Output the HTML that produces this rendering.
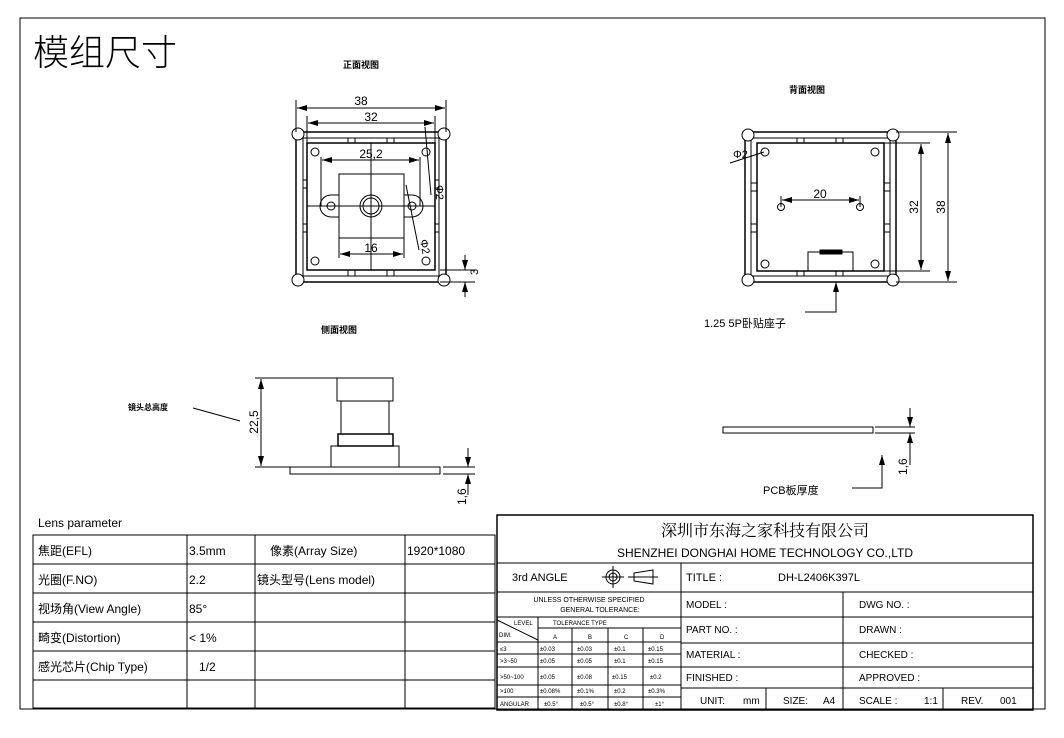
<!DOCTYPE html>
<html><head><meta charset="utf-8"><style>
body{margin:0;background:#fff;}
svg{display:block;font-family:"Liberation Sans","Noto Sans CJK SC",sans-serif;}
</style></head><body>
<svg width="1064" height="738" viewBox="0 0 1064 738" xmlns="http://www.w3.org/2000/svg">
<defs>
<marker id="a" viewBox="0 0 10 6" refX="10" refY="3" markerWidth="10" markerHeight="6" orient="auto-start-reverse" markerUnits="userSpaceOnUse"><path d="M0,0L10,3L0,6z" fill="#000"/></marker>
</defs>
<g fill="none" stroke="#000" stroke-width="1">
<rect x="20" y="18" width="1025" height="691"/>
<!-- FRONT VIEW -->
<rect x="296" y="132" width="150" height="150" stroke-width="1.5"/>
<rect x="303" y="138" width="136" height="138"/>
<rect x="307" y="143" width="128" height="127" stroke-width="1.5"/>
<circle cx="298" cy="134" r="6" fill="#fff"/><circle cx="444" cy="134" r="6" fill="#fff"/>
<circle cx="298" cy="280" r="6" fill="#fff"/><circle cx="444" cy="280" r="6" fill="#fff"/>
<circle cx="315" cy="152" r="4"/><circle cx="426" cy="152" r="4"/><circle cx="315" cy="261" r="4"/><circle cx="426" cy="261" r="4"/>
<rect x="348" y="138" width="7" height="5"/><rect x="387" y="138" width="7" height="5"/>
<rect x="348" y="270" width="7" height="6"/><rect x="387" y="270" width="7" height="6"/>
<rect x="303" y="180" width="4" height="8"/><rect x="303" y="224" width="4" height="8"/>
<rect x="435" y="180" width="4" height="8"/><rect x="435" y="224" width="4" height="8"/>
<path d="M339,195 h-8 a11,11 0 0 0 0,22 h8"/><path d="M404,195 h8 a11,11 0 0 1 0,22 h-8"/>
<circle cx="331" cy="206" r="4"/><circle cx="412" cy="206" r="4"/>
<rect x="339" y="174" width="65" height="64"/>
<circle cx="371" cy="206" r="11"/><circle cx="371" cy="206" r="8"/>
<line x1="307" y1="206" x2="435" y2="206"/><line x1="371" y1="143" x2="371" y2="270"/>
<line x1="296" y1="100" x2="296" y2="132"/><line x1="446" y1="100" x2="446" y2="132"/>
<line x1="297" y1="108" x2="445" y2="108" marker-start="url(#a)" marker-end="url(#a)"/>
<line x1="307" y1="116" x2="307" y2="143"/><line x1="435" y1="116" x2="435" y2="143"/>
<line x1="308" y1="123" x2="434" y2="123" marker-start="url(#a)" marker-end="url(#a)"/>
<line x1="321" y1="157" x2="321" y2="206"/><line x1="420" y1="157" x2="420" y2="206"/>
<line x1="322" y1="160" x2="419" y2="160" marker-start="url(#a)" marker-end="url(#a)"/>
<line x1="339" y1="238" x2="339" y2="258"/><line x1="404" y1="238" x2="404" y2="258"/>
<line x1="340" y1="254" x2="403" y2="254" marker-start="url(#a)" marker-end="url(#a)"/>
<line x1="425" y1="127" x2="431" y2="195"/><line x1="406" y1="185" x2="419" y2="250"/>
<line x1="440" y1="282" x2="475" y2="282"/><line x1="440" y1="270" x2="475" y2="270"/>
<line x1="465" y1="255" x2="465" y2="270" marker-end="url(#a)"/><line x1="465" y1="297" x2="465" y2="282" marker-end="url(#a)"/>
<!-- BACK VIEW -->
<rect x="745" y="132" width="151" height="150" stroke-width="1.5"/>
<rect x="751" y="138" width="139" height="138"/>
<rect x="757" y="143" width="127" height="128" stroke-width="1.5"/>
<circle cx="748" cy="135" r="6" fill="#fff"/><circle cx="893" cy="135" r="6" fill="#fff"/>
<circle cx="748" cy="280" r="6" fill="#fff"/><circle cx="893" cy="280" r="6" fill="#fff"/>
<circle cx="765" cy="152" r="4"/><circle cx="875" cy="152" r="4"/><circle cx="765" cy="264" r="4"/><circle cx="875" cy="264" r="4"/>
<circle cx="781" cy="207" r="3.5"/><circle cx="860" cy="207" r="3.5"/>
<rect x="797" y="138" width="7" height="5"/><rect x="836" y="138" width="7" height="5"/>
<rect x="797" y="271" width="7" height="5"/><rect x="836" y="271" width="7" height="5"/>
<rect x="751" y="183" width="6" height="8"/><rect x="751" y="224" width="6" height="8"/>
<rect x="884" y="183" width="6" height="8"/><rect x="884" y="224" width="6" height="8"/>
<line x1="781" y1="196" x2="781" y2="207"/><line x1="860" y1="196" x2="860" y2="207"/>
<line x1="782" y1="200" x2="859" y2="200" marker-start="url(#a)" marker-end="url(#a)"/>
<polyline points="808,271 808,252 853,252 853,271"/>
<rect x="820" y="250" width="22" height="4" fill="#000"/>
<line x1="836" y1="312" x2="836" y2="282" marker-end="url(#a)"/><polyline points="805,312 836,312 836,295"/>
<line x1="730" y1="163" x2="764" y2="152"/>
<line x1="884" y1="143" x2="930" y2="143"/><line x1="884" y1="271" x2="930" y2="271"/>
<line x1="921" y1="144" x2="921" y2="270" marker-start="url(#a)" marker-end="url(#a)"/>
<line x1="896" y1="132" x2="957" y2="132"/><line x1="896" y1="282" x2="957" y2="282"/>
<line x1="948" y1="133" x2="948" y2="281" marker-start="url(#a)" marker-end="url(#a)"/>
<!-- SIDE VIEW -->
<rect x="337" y="378" width="56" height="23"/>
<rect x="341" y="401" width="48" height="33"/>
<rect x="338" y="434" width="55" height="12" stroke-width="1.5"/>
<rect x="331" y="446" width="68" height="21"/>
<rect x="290" y="467" width="150" height="7"/>
<line x1="255" y1="378" x2="337" y2="378"/><line x1="255" y1="467" x2="331" y2="467"/>
<line x1="261" y1="379" x2="261" y2="466" marker-start="url(#a)" marker-end="url(#a)"/>
<line x1="193" y1="408" x2="240" y2="421"/>
<line x1="443" y1="467" x2="475" y2="467"/><line x1="443" y1="474" x2="475" y2="474"/>
<line x1="468" y1="448" x2="468" y2="467" marker-end="url(#a)"/><line x1="468" y1="495" x2="468" y2="474" marker-end="url(#a)"/>
<!-- PCB THICKNESS -->
<rect x="723" y="427" width="150" height="6"/>
<line x1="875" y1="427" x2="915" y2="427"/><line x1="875" y1="433" x2="915" y2="433"/>
<line x1="910" y1="408" x2="910" y2="427" marker-end="url(#a)"/><line x1="910" y1="465" x2="910" y2="433" marker-end="url(#a)"/>
<line x1="882" y1="488" x2="882" y2="455" marker-end="url(#a)"/><polyline points="852,488 882,488 882,470"/>
<!-- LENS TABLE -->
<rect x="33" y="535" width="462" height="173"/>
<line x1="33" y1="564" x2="495" y2="564"/><line x1="33" y1="593" x2="495" y2="593"/>
<line x1="33" y1="622" x2="495" y2="622"/><line x1="33" y1="651" x2="495" y2="651"/>
<line x1="33" y1="680" x2="495" y2="680"/>
<line x1="187" y1="535" x2="187" y2="708"/><line x1="255" y1="535" x2="255" y2="708"/><line x1="405" y1="535" x2="405" y2="708"/>
<!-- TITLE BLOCK -->
<rect x="497" y="515" width="536" height="195" stroke-width="1.5"/>
<line x1="497" y1="563" x2="1033" y2="563"/><line x1="497" y1="592" x2="1033" y2="592"/>
<line x1="681" y1="563" x2="681" y2="710"/>
<line x1="681" y1="617" x2="1033" y2="617"/><line x1="681" y1="643" x2="1033" y2="643"/>
<line x1="681" y1="667" x2="1033" y2="667"/><line x1="681" y1="688" x2="1033" y2="688"/>
<line x1="843" y1="592" x2="843" y2="710"/><line x1="766" y1="688" x2="766" y2="710"/><line x1="943" y1="688" x2="943" y2="710"/>
<line x1="497" y1="617" x2="681" y2="617"/><line x1="538" y1="628" x2="681" y2="628"/>
<line x1="497" y1="642" x2="681" y2="642"/><line x1="497" y1="654" x2="681" y2="654"/>
<line x1="497" y1="667" x2="681" y2="667"/><line x1="497" y1="685" x2="681" y2="685"/>
<line x1="497" y1="697" x2="681" y2="697"/>
<line x1="538" y1="617" x2="538" y2="710"/><line x1="572" y1="628" x2="572" y2="710"/>
<line x1="608" y1="628" x2="608" y2="710"/><line x1="643" y1="628" x2="643" y2="710"/>
<line x1="497" y1="620" x2="538" y2="640"/>
<circle cx="613" cy="577" r="7"/><circle cx="613" cy="577" r="4"/>
<line x1="602" y1="577" x2="624" y2="577"/><line x1="613" y1="566" x2="613" y2="588"/>
<polygon points="634,573 653,570 653,584 634,581"/><line x1="628" y1="577" x2="658" y2="577"/>
</g>
<g font-size="13" fill="#000">
<text x="33" y="65" font-size="36" font-family="'Noto Sans CJK SC',sans-serif" font-weight="300">模组尺寸</text>
<text x="343" y="68" font-size="9" font-weight="bold">正面视图</text>
<text x="789" y="93" font-size="9" font-weight="bold">背面视图</text>
<text x="321" y="333" font-size="9" font-weight="bold">侧面视图</text>
<text x="128" y="410" font-size="8" font-weight="bold">镜头总高度</text>
<text x="361" y="105" font-size="12" text-anchor="middle">38</text>
<text x="371" y="121" font-size="12" text-anchor="middle">32</text>
<text x="371" y="158" font-size="12" text-anchor="middle">25,2</text>
<text x="371" y="252" font-size="12" text-anchor="middle">16</text>
<text x="436" y="185" font-size="11" transform="rotate(90 436 185)">Φ2</text>
<text x="420" y="240" font-size="11" transform="rotate(80 420 240)">Φ2</text>
<text x="478" y="275" font-size="11" transform="rotate(-90 478 275)">3</text>
<text x="733" y="158" font-size="11">Φ2</text>
<text x="820" y="198" font-size="12" text-anchor="middle">20</text>
<text x="918" y="207" font-size="12" transform="rotate(-90 918 207)" text-anchor="middle">32</text>
<text x="945" y="207" font-size="12" transform="rotate(-90 945 207)" text-anchor="middle">38</text>
<text x="704" y="327" font-size="11">1.25 5P卧贴座子</text>
<text x="258" y="422" font-size="12" transform="rotate(-90 258 422)" text-anchor="middle">22,5</text>
<text x="466" y="505" font-size="12" transform="rotate(-90 466 505)">1,6</text>
<text x="907" y="475" font-size="12" transform="rotate(-90 907 475)">1,6</text>
<text x="763" y="494" font-size="11">PCB板厚度</text>
<text x="38" y="527" font-size="12">Lens parameter</text>
<text x="38" y="555" font-size="12">焦距(EFL)</text><text x="189" y="555" font-size="12">3.5mm</text>
<text x="270" y="555" font-size="12">像素(Array Size)</text><text x="407" y="555" font-size="12">1920*1080</text>
<text x="38" y="584" font-size="12">光圈(F.NO)</text><text x="189" y="584" font-size="12">2.2</text>
<text x="257" y="584" font-size="12">镜头型号(Lens model)</text>
<text x="38" y="613" font-size="12">视场角(View Angle)</text><text x="189" y="613" font-size="12">85°</text>
<text x="38" y="642" font-size="12">畸变(Distortion)</text><text x="189" y="642" font-size="12">&lt; 1%</text>
<text x="38" y="671" font-size="12">感光芯片(Chip Type)</text><text x="199" y="671" font-size="12">1/2</text>
<text x="765" y="536" font-size="16" text-anchor="middle" font-family="'Noto Serif CJK SC',serif">深圳市东海之家科技有限公司</text>
<text x="765" y="557" font-size="12" text-anchor="middle">SHENZHEI DONGHAI HOME TECHNOLOGY CO.,LTD</text>
<text x="512" y="581" font-size="11">3rd ANGLE</text>
<text x="686" y="581" font-size="11">TITLE :</text><text x="778" y="581" font-size="11">DH-L2406K397L</text>
<text x="589" y="602" font-size="7" text-anchor="middle">UNLESS OTHERWISE SPECIFIED</text>
<text x="600" y="612" font-size="7" text-anchor="middle">GENERAL TOLERANCE:</text>
<text x="514" y="625" font-size="6">LEVEL</text><text x="553" y="625" font-size="6">TOLERANCE TYPE</text>
<text x="499" y="637" font-size="6">DIM.</text>
<text x="553" y="639" font-size="6">A</text><text x="588" y="639" font-size="6">B</text><text x="624" y="639" font-size="6">C</text><text x="660" y="639" font-size="6">D</text>
<g font-size="6">
<text x="500" y="651">≤3</text><text x="540" y="651">±0.03</text><text x="577" y="651">±0.03</text><text x="614" y="651">±0.1</text><text x="648" y="651">±0.15</text>
<text x="500" y="663">&gt;3~50</text><text x="540" y="663">±0.05</text><text x="577" y="663">±0.05</text><text x="614" y="663">±0.1</text><text x="648" y="663">±0.15</text>
<text x="500" y="679">&gt;50~100</text><text x="540" y="679">±0.05</text><text x="577" y="679">±0.08</text><text x="612" y="679">±0.15</text><text x="650" y="679">±0.2</text>
<text x="500" y="693">&gt;100</text><text x="540" y="693">±0.08%</text><text x="577" y="693">±0.1%</text><text x="614" y="693">±0.2</text><text x="648" y="693">±0.3%</text>
<text x="500" y="706">ANGULAR</text><text x="544" y="706">±0.5°</text><text x="580" y="706">±0.5°</text><text x="614" y="706">±0.8°</text><text x="655" y="706">±1°</text>
</g>
<g font-size="10">
<text x="686" y="608">MODEL :</text><text x="859" y="608">DWG NO. :</text>
<text x="686" y="633">PART NO. :</text><text x="859" y="633">DRAWN :</text>
<text x="686" y="658">MATERIAL :</text><text x="859" y="658">CHECKED :</text>
<text x="686" y="681">FINISHED :</text><text x="859" y="681">APPROVED :</text>
<text x="700" y="704">UNIT:</text><text x="743" y="704">mm</text><text x="783" y="704">SIZE:</text><text x="823" y="704">A4</text>
<text x="859" y="704">SCALE :</text><text x="924" y="704">1:1</text><text x="961" y="704">REV.</text><text x="1000" y="704">001</text>
</g>
</g>
</svg>
</body></html>
